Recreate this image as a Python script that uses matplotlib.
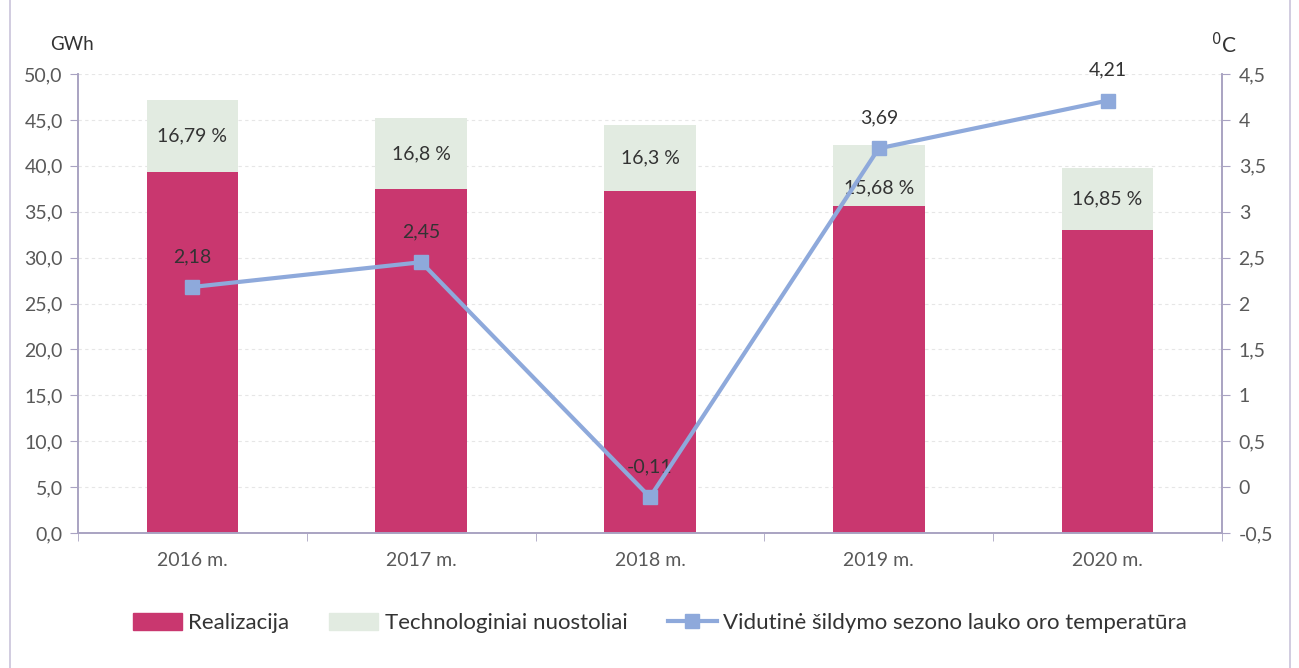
import matplotlib
matplotlib.use("Agg")
import matplotlib.pyplot as plt
from matplotlib.ticker import FuncFormatter, FixedLocator
from matplotlib.patches import Rectangle
from matplotlib.lines import Line2D
from matplotlib.patches import Patch

plt.rcParams['font.family'] = ['Lato', 'DejaVu Sans']

# data
years = ['2016 m.', '2017 m.', '2018 m.', '2019 m.', '2020 m.']
realizacija = [39.3, 37.5, 37.3, 35.6, 33.0]
nuostoliai = [7.9, 7.7, 7.1, 6.7, 6.8]
loss_pct = ['16,79 %', '16,8 %', '16,3 %', '15,68 %', '16,85 %']
temperatura = [2.18, 2.45, -0.11, 3.69, 4.21]

c_real = '#C9376F'
c_loss = '#E2EBE1'
c_line = '#8EA9DB'
c_axis = '#A9A3C2'
c_text = '#595959'

fig = plt.figure(figsize=(12.99, 6.68), dpi=100)
ax = fig.add_axes([0.060, 0.2021, 0.8807, 0.6871])
ax2 = ax.twinx()

x = list(range(len(years)))
ax.bar(x, realizacija, width=0.4, color=c_real, zorder=2)
ax.bar(x, nuostoliai, width=0.4, bottom=realizacija, color=c_loss, zorder=2)

for i in x:
    yc = realizacija[i] + nuostoliai[i] / 2
    off = -9 if i == 3 else 0
    ax.annotate(loss_pct[i], (i, yc), xytext=(0, off), textcoords='offset points',
                ha='center', va='center', fontsize=14, color='#333333', zorder=5)

ax2.plot(x, temperatura, color=c_line, lw=3, marker='s', markersize=10,
         markerfacecolor=c_line, markeredgecolor=c_line, zorder=4)
for i in x:
    ax2.annotate(f'{temperatura[i]:.2f}'.replace('.', ','), (i, temperatura[i]),
                 xytext=(0, 22), textcoords='offset points', ha='center', va='center',
                 fontsize=14, color='#333333')

ax.set_xlim(-0.5, 4.5)
ax.set_ylim(0, 50)
ax2.set_ylim(-0.5, 4.5)
ax.set_yticks([i * 5 for i in range(11)])
ax2.set_yticks([-0.5 + 0.5 * i for i in range(11)])
ax.yaxis.set_major_formatter(FuncFormatter(lambda v, p: f'{v:.1f}'.replace('.', ',')))
ax2.yaxis.set_major_formatter(FuncFormatter(lambda v, p: f'{v:g}'.replace('.', ',')))

ax.set_xticks(x)
ax.set_xticklabels(years)
ax.xaxis.set_minor_locator(FixedLocator([i + 0.5 for i in range(-1, 5)]))
ax.tick_params(axis='x', which='major', length=0, pad=14, labelsize=14, labelcolor=c_text)
ax.tick_params(axis='x', which='minor', length=6, color=c_axis, direction='out')
ax.tick_params(axis='y', length=6, color=c_axis, labelsize=14, labelcolor=c_text, pad=5)
ax2.tick_params(axis='y', length=6, color=c_axis, labelsize=14, labelcolor=c_text, pad=6)

ax.grid(axis='y', color='#E6E6E6', linestyle=(0, (3, 3)), lw=0.8, zorder=0)
ax.set_axisbelow(True)
for a in (ax, ax2):
    a.spines['top'].set_visible(False)
    for s in ('left', 'right', 'bottom'):
        a.spines[s].set_color(c_axis)
        a.spines[s].set_linewidth(1.2)

fig.text(50 / 1299, 1 - 45 / 668, 'GWh', fontsize=13.5, color='#333333', ha='left', va='center')
fig.text(1211 / 1299, 1 - 45 / 668, r'$^{0}$C', fontsize=15, color='#333333', ha='left', va='center')

handles = [Patch(color=c_real, label='Realizacija'),
           Patch(color=c_loss, label='Technologiniai nuostoliai'),
           Line2D([0], [0], color=c_line, lw=3, marker='s', markersize=10,
                  label='Vidutinė šildymo sezono lauko oro temperatūra')]
fig.legend(handles=handles, loc='center', bbox_to_anchor=(0.508, 1 - 623 / 668), ncol=3,
           frameon=False, fontsize=16, handlelength=2.2, handleheight=0.8,
           columnspacing=1.8, handletextpad=0.3, labelcolor='#333333')

fig.patches.append(Rectangle((10 / 1299, -0.05), 1280 / 1299, 1.1, transform=fig.transFigure,
                             fill=False, edgecolor='#C9C3DA', lw=1.2))

fig.savefig('out.png', dpi=100)
